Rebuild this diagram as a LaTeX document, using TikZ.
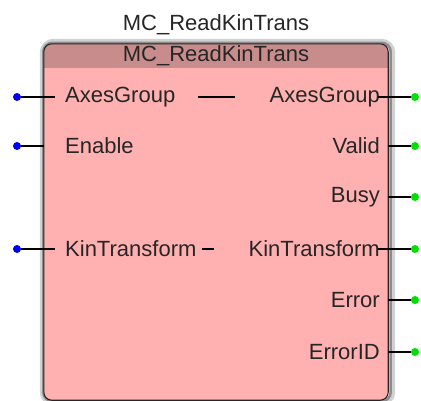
\documentclass[tikz,border=0pt]{standalone}
\usepackage{fontspec}
\setmainfont{Liberation Sans}
\usepackage{xcolor}
\usepackage{tikz}
\usetikzlibrary{positioning, backgrounds}

\definecolor{fbbody}{HTML}{FFB0B0}
\definecolor{fbhead}{HTML}{C98C8C}
\definecolor{pinblue}{HTML}{0000F0}
\definecolor{pingreen}{HTML}{00E000}

\begin{document}
\begin{tikzpicture}[
  x=1pt, y=-1pt,
  every node/.style={font=\fontsize{22}{22}\selectfont, text=black!85},
  block/.style={rectangle, rounded corners=8pt, fill=fbbody,
                minimum width=344pt, minimum height=356pt, inner sep=0pt},
  pin/.style={circle, fill=#1, minimum size=8pt, inner sep=0pt},
  pin/.default=pinblue,
  inlabel/.style={anchor=west, inner sep=0pt},
  outlabel/.style={anchor=east, inner sep=0pt},
  wire/.style={line width=1.1pt, black},
  glow/.style={rounded corners=#1, draw=black!18, line width=5pt},
]
  \useasboundingbox (0,0) rectangle (421,400);

  % ── block ──
  \node[block] (blk) at (216,222) {};
  \begin{scope}[on background layer]
    \draw[glow=11pt] ([shift={(-1.5pt,2.5pt)}]blk.north west) rectangle ([shift={(4.5pt,-3pt)}]blk.south east);
    \draw[glow=9pt, draw=black!45, line width=2.5pt] ([shift={(-0.5pt,1pt)}]blk.north west) rectangle ([shift={(2.5pt,-1pt)}]blk.south east);
  \end{scope}
  \begin{scope}
    \clip[rounded corners=8pt] (blk.north west) rectangle (blk.south east);
    \fill[fbhead] (blk.north west) rectangle (blk.east |- 0,68);
  \end{scope}
  \draw[line width=1.1pt, black!85, rounded corners=8pt] (blk.north west) rectangle (blk.south east);

  \node (hdr) at (216,56) {MC\_ReadKinTrans};
  \node (title) [above=4pt of hdr] {MC\_ReadKinTrans};

  % ── inputs ──
  \node[pin] (iAxes) at (17,97) {};
  \node[pin] (iEnable) at (17,146) {};
  \node[pin] (iKin) at (17,249) {};
  \node[inlabel] (lAxesIn) at (65,97) {AxesGroup};
  \node[inlabel] (lEnable) at (65,146) {Enable};
  \node[inlabel] (lKinIn) at (65,249) {KinTransform};

  \draw[wire] (iAxes) -- ([xshift=-10pt]lAxesIn.west);
  \draw[wire] (iEnable) -- (iEnable -| blk.west);
  \draw[wire] (iKin) -- ([xshift=-10pt]lKinIn.west);

  % ── in-out links ──
  \draw[wire] (198,97) -- (235,97);
  \draw[wire] ([xshift=5pt]lKinIn.east) -- ++(12,0);

  % ── outputs ──
  \node[pin=pingreen] (oAxes) at (415,97) {};
  \node[pin=pingreen] (oValid) at (415,146) {};
  \node[pin=pingreen] (oBusy) at (415,197) {};
  \node[pin=pingreen] (oKin) at (415,249) {};
  \node[pin=pingreen] (oError) at (415,300) {};
  \node[pin=pingreen] (oErrorID) at (415,352) {};
  \node[outlabel] (lAxesOut) at (380,97) {AxesGroup};
  \node[outlabel] (lValid) at (380,146) {Valid};
  \node[outlabel] (lBusy) at (380,197) {Busy};
  \node[outlabel] (lKinOut) at (380,249) {KinTransform};
  \node[outlabel] (lError) at (380,300) {Error};
  \node[outlabel] (lErrorID) at (380,352) {ErrorID};

  \draw[wire] ([xshift=-2pt]lAxesOut.east) -- (oAxes);
  \draw[wire] (oValid -| blk.east) -- (oValid);
  \draw[wire] (oBusy -| blk.east) -- (oBusy);
  \draw[wire] ([xshift=-2pt]lKinOut.east) -- (oKin);
  \draw[wire] (oError -| blk.east) -- (oError);
  \draw[wire] (oErrorID -| blk.east) -- (oErrorID);
\end{tikzpicture}
\end{document}
